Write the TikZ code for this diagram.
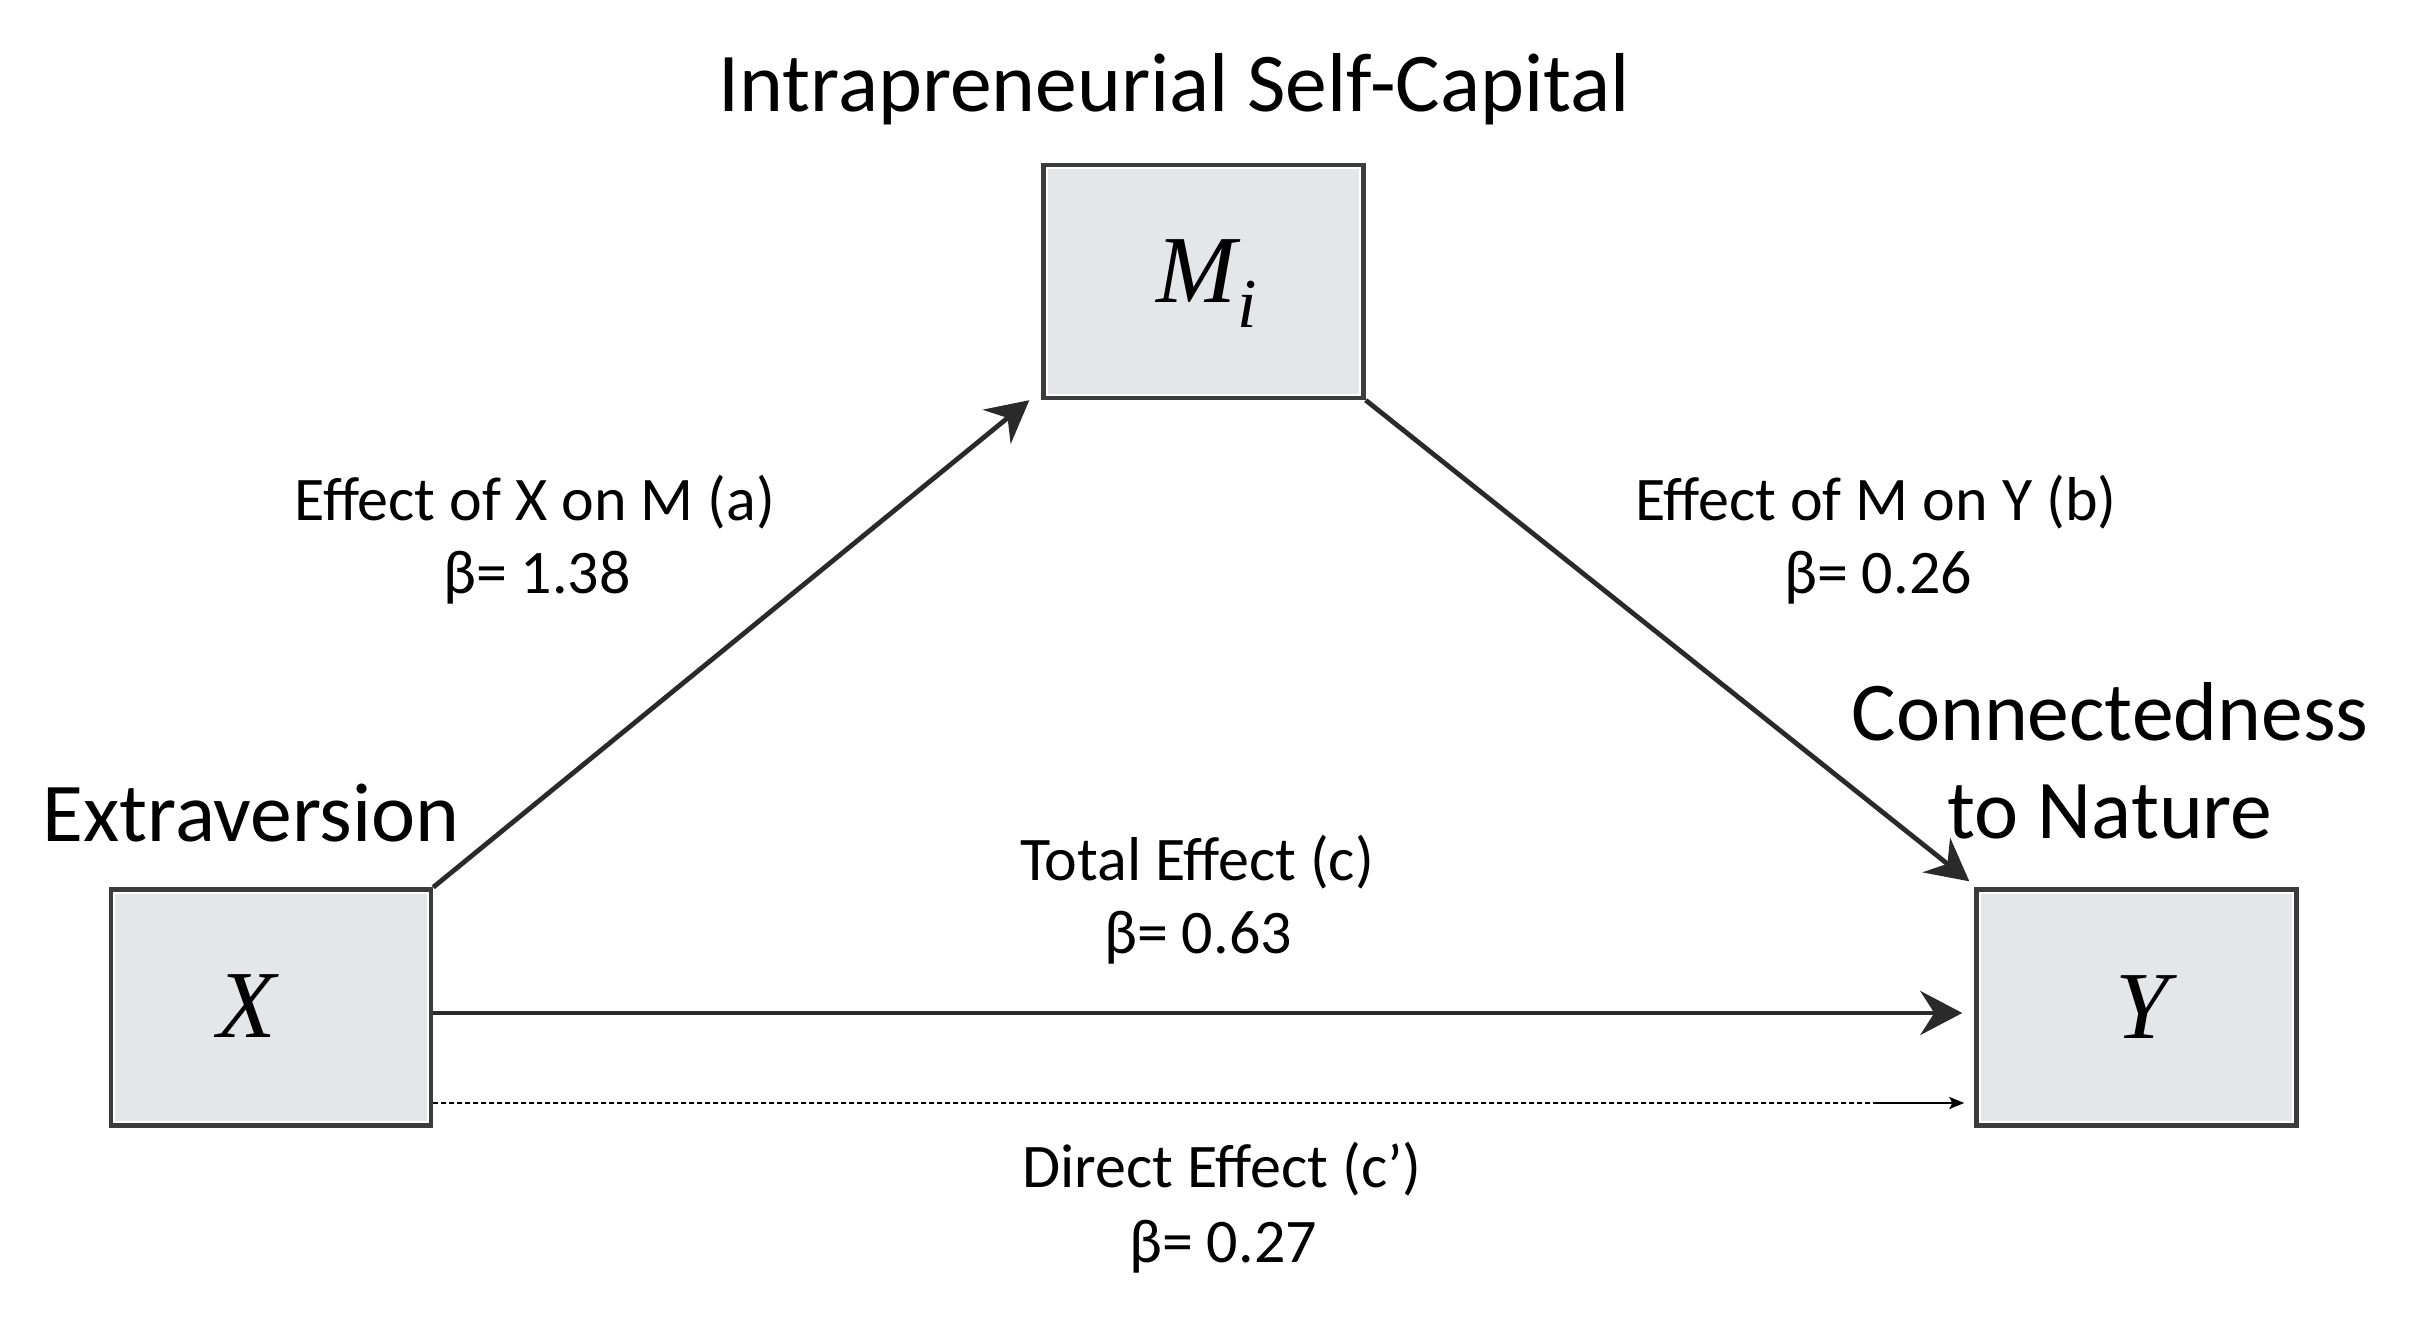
\documentclass[tikz,border=0pt]{standalone}
\usepackage{fontspec}
\setmainfont{Carlito}
\newfontfamily\timesfont{Liberation Serif}
\usetikzlibrary{arrows.meta}
\definecolor{boxfill}{HTML}{E4E6E9}
\definecolor{boxline}{HTML}{3C3C3C}
\definecolor{arrowcol}{HTML}{2A2A2A}
\tikzset{
  varbox/.style={draw=boxline, line width=2.2pt, fill=boxfill,
    minimum width=160pt, minimum height=118pt, inner sep=0pt,
    path picture={\draw[white,line width=1pt]
      ([shift={(1.7pt,-1.7pt)}]path picture bounding box.north west) rectangle
      ([shift={(-1.7pt,1.7pt)}]path picture bounding box.south east);}},
  heading/.style={anchor=base, inner sep=0pt, font=\fontsize{41.8}{50}\selectfont},
  pathlabel/.style={anchor=base, inner sep=0pt, font=\fontsize{31}{37}\selectfont},
  mathlbl/.style={anchor=base, inner sep=0pt, font=\fontsize{48}{54}\selectfont\timesfont\itshape},
  mainarrow/.style={draw=arrowcol, line width=2.4pt,
    -{Stealth[length=21pt,width=22pt,inset=7pt]}},
  directline/.style={draw=black, line width=0.9pt},
}
\begin{document}
\begin{tikzpicture}[x=0.5pt,y=-0.5pt]
\useasboundingbox (0,0) rectangle (2411,1321);
% boxes
\node[varbox, minimum height=116.5pt] (M) at (1203.5,281.5) {};
\node[varbox] (X) at (271,1007.5) {};
\node[varbox] (Y) at (2136.5,1007.5) {};
% letters in boxes
\node[mathlbl] (tM) at (1207,303) {M\kern0.5pt\raisebox{-12.5pt}{\fontsize{35}{37}\selectfont i}};
\node[mathlbl] (tX) at (247,1037) {X};
\node[mathlbl] (tY) at (2142,1038) {Y};
% headings
\node[heading] (tISC) at (1174,112) {Intrapreneurial Self-Capital};
\node[heading] (tExt) at (251,841) {Extraversion};
\node[heading] (tCon) at (2110,740) {Connectedness};
\node[heading] (tNat) at (2110,838) {to Nature};
% path labels
\node[pathlabel] (lA1) at (535,520) {Effect of X on M (a)};
\node[pathlabel] (lA2) at (537,593) {β= 1.38};
\node[pathlabel] (lB1) at (1876,520) {Effect of M on Y (b)};
\node[pathlabel] (lB2) at (1878,593) {β= 0.26};
\node[pathlabel] (lC1) at (1197,880) {Total Effect (c)};
\node[pathlabel] (lC2) at (1198,953) {β= 0.63};
\node[pathlabel] (lD1) at (1222,1187) {Direct Effect (c’)};
\node[pathlabel] (lD2) at (1223,1262) {β= 0.27};
% connectors
\draw[mainarrow] (X.north east) -- ([xshift=-6pt]M.south west);
\draw[mainarrow] (M.south east) -- ([xshift=-2.5pt,yshift=3pt]Y.north west);
\draw[mainarrow] ([yshift=-2.75pt]X.east) -- ([yshift=-2.75pt,xshift=-6pt]Y.west);
\coordinate (dmid) at (1873,1103);
\draw[directline, dash pattern=on 2.5pt off 1.5pt] ([yshift=-47.75pt]X.east) -- (dmid);
\draw[directline, -{Stealth[length=7.5pt,width=6pt,inset=1.5pt]}] (dmid) -- ([yshift=-47.75pt,xshift=-5pt]Y.west);
\end{tikzpicture}
\end{document}
